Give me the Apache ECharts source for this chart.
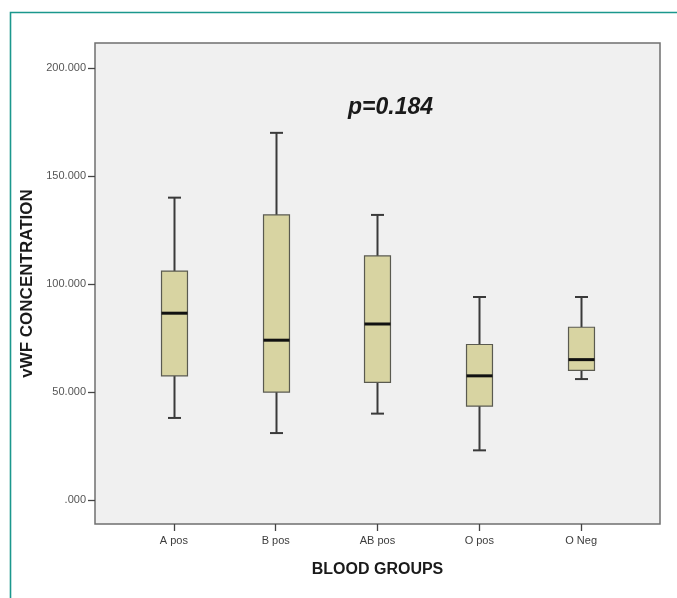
<!DOCTYPE html>
<html>
<head>
<meta charset="utf-8">
<script src="https://cdn.jsdelivr.net/npm/echarts@6/dist/echarts.min.js"></script>
<style>
html,body{margin:0;padding:0;background:#fff;}
#chart{width:677px;height:598px;}
</style>
</head>
<body>
<div id="chart"></div>
<script>
// Data
const categories = ['A pos', 'B pos', 'AB pos', 'O pos', 'O Neg'];
const whiskerLow = [38, 31, 40, 23, 56];
const q1 = [57.5, 50, 54.5, 43.5, 60];
const median = [86.5, 74, 81.5, 57.5, 65];
const q3 = [106, 132, 113, 72, 80];
const whiskerHigh = [140, 170, 132, 94, 94];
const yTicks = [0, 50, 100, 150, 200];
const pText = 'p=0.184';

const boxData = categories.map((c, i) => [i, whiskerLow[i], q1[i], median[i], q3[i], whiskerHigh[i]]);

const chart = echarts.init(document.getElementById('chart'), null, {renderer: 'canvas'});

function renderBox(params, api) {
  const x = api.value(0);
  const lo = api.coord([x, api.value(1)]);
  const b1 = api.coord([x, api.value(2)]);
  const md = api.coord([x, api.value(3)]);
  const b3 = api.coord([x, api.value(4)]);
  const hi = api.coord([x, api.value(5)]);
  const bw = api.size([0.255, 0])[0];
  const cw = api.size([0.128, 0])[0];
  const cx = Math.round(lo[0]) + 0.5;
  const wStyle = {stroke: '#3a3a3a', lineWidth: 2, fill: null};
  return {
    type: 'group',
    children: [
      {type: 'line', shape: {x1: cx, y1: hi[1], x2: cx, y2: b3[1]}, style: wStyle},
      {type: 'line', shape: {x1: cx, y1: b1[1], x2: cx, y2: lo[1]}, style: wStyle},
      {type: 'line', shape: {x1: cx - cw / 2, y1: hi[1], x2: cx + cw / 2, y2: hi[1]}, style: wStyle},
      {type: 'line', shape: {x1: cx - cw / 2, y1: lo[1], x2: cx + cw / 2, y2: lo[1]}, style: wStyle},
      {type: 'rect', shape: {x: cx - bw / 2, y: b3[1], width: bw, height: b1[1] - b3[1]},
        style: {fill: '#d8d4a2', stroke: '#5a5a50', lineWidth: 1.2}},
      {type: 'line', shape: {x1: cx - bw / 2, y1: md[1], x2: cx + bw / 2, y2: md[1]},
        style: {stroke: '#111', lineWidth: 3}}
    ]
  };
}

const option = {
  backgroundColor: '#ffffff',
  animation: false,
  grid: {
    left: 95, right: 17, top: 43, bottom: 74,
    show: true, backgroundColor: '#f0f0f0', borderColor: '#6f6f6f', borderWidth: 1.5,
    containLabel: false
  },
  xAxis: {
    type: 'value',
    min: -0.775, max: 4.775,
    name: 'BLOOD GROUPS',
    nameLocation: 'middle',
    nameGap: 38,
    nameTextStyle: {fontFamily: 'Liberation Sans, Arial', fontSize: 16, fontWeight: 'bold', color: '#1a1a1a'},
    axisLine: {show: false, onZero: false},
    splitLine: {show: false},
    axisTick: {show: true, customValues: [0, 1, 2, 3, 4], length: 7, lineStyle: {color: '#444', width: 1.3}},
    axisLabel: {
      customValues: [0, 1, 2, 3, 4],
      margin: 11,
      fontFamily: 'Liberation Sans, Arial', fontSize: 11, color: '#3c3c3c',
      formatter: v => categories[Math.round(v)]
    }
  },
  yAxis: {
    type: 'value',
    min: -11.1, max: 211.6,
    name: 'vWF CONCENTRATION',
    nameLocation: 'middle',
    nameRotate: 90,
    nameGap: 51,
    nameTextStyle: {fontFamily: 'Liberation Sans, Arial', fontSize: 17, fontWeight: 'bold', color: '#1a1a1a'},
    axisLine: {show: false, onZero: false},
    splitLine: {show: false},
    axisTick: {show: true, customValues: yTicks, length: 7, lineStyle: {color: '#444', width: 1.3}},
    axisLabel: {
      customValues: yTicks,
      margin: 9,
      fontFamily: 'Liberation Sans, Arial', fontSize: 11, color: '#555',
      formatter: v => v === 0 ? '.000' : v.toFixed(3)
    }
  },
  series: [{
    type: 'custom',
    renderItem: renderBox,
    data: boxData,
    encode: {x: 0, y: [1, 2, 3, 4, 5]},
    clip: false
  }],
  graphic: [
    {
      type: 'polyline', silent: true, z: 100,
      shape: {points: [[10.5, 610], [10.5, 12.5], [690, 12.5]]},
      style: {stroke: '#1b978d', lineWidth: 1.6, fill: null}
    },
    {
      type: 'text', left: 348, top: 96, z: 100,
      style: {text: pText, font: 'italic bold 23px "Liberation Sans", Arial', fill: '#1a1a1a'}
    }
  ]
};
chart.setOption(option);
</script>
</body>
</html>
